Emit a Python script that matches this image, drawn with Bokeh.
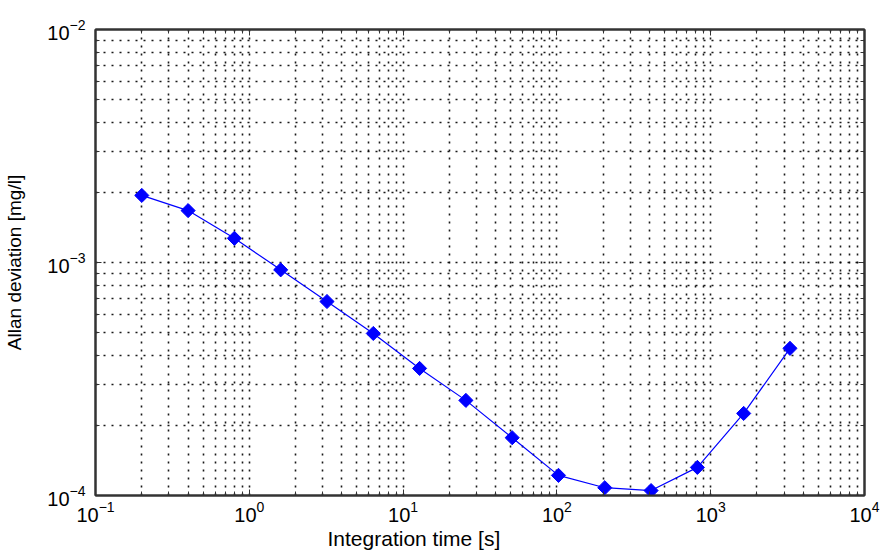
import math
from bokeh.plotting import figure
from bokeh.models import FixedTicker, LogAxis, CustomJSTickFormatter, LogTickFormatter, Title
from bokeh.embed import file_html
from bokeh.resources import INLINE

# data
tau = [0.2, 0.4, 0.8, 1.6, 3.2, 6.4, 12.8, 25.6, 51.2, 102.4, 204.8, 409.6, 819.2, 1638.4, 3276.8]
adev = [1.94e-3, 1.67e-3, 1.27e-3, 9.3e-4, 6.8e-4, 4.96e-4, 3.51e-4, 2.56e-4, 1.77e-4,
        1.22e-4, 1.08e-4, 1.05e-4, 1.32e-4, 2.25e-4, 4.28e-4]

x_exponents = [-1, 0, 1, 2, 3, 4]
y_exponents = [-4, -3, -2]
x_label = "Integration time [s]"
y_label = "Allan deviation [mg/l]"

x_major = [10.0 ** e for e in x_exponents]
y_major = [10.0 ** e for e in y_exponents]
x_minor = [m * 10.0 ** e for e in x_exponents[:-1] for m in range(2, 10)]
y_minor = [m * 10.0 ** e for e in y_exponents[:-1] for m in range(2, 10)]

FONT = "Liberation Sans"
AX = "#333333"

p = figure(width=881, height=551, x_axis_type="log", y_axis_type="log",
           x_range=(0.1, 1e4), y_range=(1e-4, 1e-2),
           frame_width=769, frame_height=466,
           min_border_left=95, min_border_right=17, min_border_top=29, min_border_bottom=56,
           output_backend="svg", toolbar_location=None)
p.background_fill_color = "white"
p.border_fill_color = "white"
p.outline_line_color = AX
p.outline_line_width = 2

xt = FixedTicker(ticks=x_major, minor_ticks=x_minor)
yt = FixedTicker(ticks=y_major, minor_ticks=y_minor)

def style_axis(ax, labels):
    ax.formatter = LogTickFormatter() if labels else CustomJSTickFormatter(code="return ''")
    ax.axis_line_color = AX
    ax.axis_line_width = 2
    ax.major_tick_in = 6
    ax.major_tick_out = 0
    ax.minor_tick_in = 4
    ax.minor_tick_out = 0
    ax.major_tick_line_color = AX
    ax.minor_tick_line_color = AX
    ax.major_tick_line_width = 1
    ax.minor_tick_line_width = 1
    ax.major_label_text_font = FONT
    ax.major_label_text_font_size = "20px" if labels else "1px"
    ax.major_label_text_color = "black"

p.xaxis.ticker = xt
p.yaxis.ticker = yt
for ax in p.xaxis + p.yaxis:
    style_axis(ax, True)
p.xaxis.major_label_standoff = 5
p.yaxis.major_label_standoff = 10

p.yaxis.axis_label = y_label
p.yaxis.axis_label_standoff = 19
p.yaxis.axis_label_text_font = FONT
p.yaxis.axis_label_text_font_size = "19px"
p.yaxis.axis_label_text_font_style = "normal"
p.yaxis.axis_label_text_color = "black"

top = LogAxis(ticker=xt)
style_axis(top, False)
top.major_label_standoff = 0
p.add_layout(top, "above")
right = LogAxis(ticker=yt)
style_axis(right, False)
right.major_label_standoff = 0
p.add_layout(right, "right")

xt_title = Title(text=x_label, align="left", offset=232, standoff=0,
                 text_font=FONT, text_font_size="21px", text_font_style="normal",
                 text_color="black")
p.add_layout(xt_title, "below")

xg = p.xgrid[0]
yg = p.ygrid[0]
xg.ticker = xt
yg.ticker = yt
for g in (xg, yg):
    g.grid_line_color = "black"
    g.grid_line_dash = "2 6"
    g.grid_line_width = 1.6
    g.grid_line_alpha = 0.9
    g.minor_grid_line_color = "black"
    g.minor_grid_line_dash = "2 6"
    g.minor_grid_line_width = 1.6
    g.minor_grid_line_alpha = 0.9

p.line(tau, adev, line_color="#0000ff", line_width=1.2)
p.scatter(tau, adev, marker="square", angle=math.pi / 4, size=10,
          fill_color="#0000ff", line_color="#0000ff")

open("out.html", "w").write(file_html(p, INLINE))
